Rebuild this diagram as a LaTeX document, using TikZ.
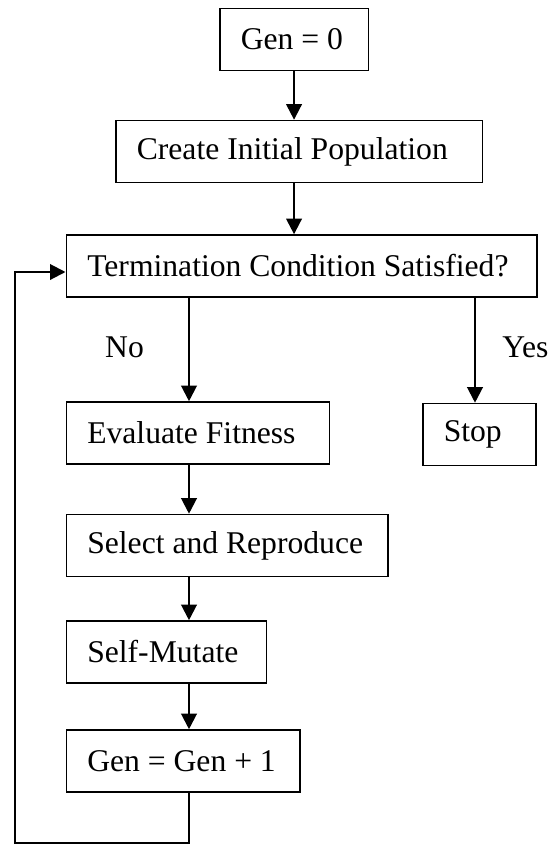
\documentclass[tikz,border=0pt]{standalone}
\usepackage{fontspec}
\setmainfont{Liberation Serif}
\usetikzlibrary{arrows.meta}

% text set flush left in a field of fixed width
\newcommand{\boxtext}[2]{\makebox[#1][l]{#2}}

\begin{document}
\begin{tikzpicture}[
      mybox/.style={
         rectangle,
         draw=black,
         line width=0.9pt,
         inner xsep=0.42cm,
         inner ysep=0pt,
         minimum height=1.24cm,
         anchor=west,
         font=\fontsize{18}{21}\selectfont},
      myarrow/.style={-{Triangle[length=0.31cm,width=0.31cm]},line width=1.2pt},
      mylabel/.style={font=\fontsize{18}{21}\selectfont}
      ]
      \useasboundingbox (0,0) rectangle (11.02,-16.88);

      \node[mybox] (gen0) at (4.38,-0.79) {\boxtext{2.13cm}{Gen = 0}};
      \node[mybox] (create) at (2.30,-3.03) {\boxtext{6.49cm}{Create Initial Population}};
      \node[mybox] (term) at (1.31,-5.32) {\boxtext{8.57cm}{Termination Condition Satisfied?}};
      \node[mybox] (eval) at (1.31,-8.66) {\boxtext{4.42cm}{Evaluate Fitness}};
      \node[mybox] (stop) at (8.44,-8.69) {\boxtext{1.42cm}{Stop}};
      \node[mybox] (select) at (1.31,-10.91) {\boxtext{5.59cm}{Select and Reproduce}};
      \node[mybox] (mutate) at (1.31,-13.04) {\boxtext{3.16cm}{Self-Mutate}};
      \node[mybox] (gen1) at (1.31,-15.22) {\boxtext{3.83cm}{Gen = Gen + 1}};

      \node[mylabel] (no) at (2.49,-6.94) {No};
      \node[mylabel] (yes) at (10.51,-6.94) {Yes};

      \coordinate (nocol) at (3.78,0);
      \coordinate (yescol) at (9.50,0);
      \coordinate (loopbot) at (0.30,-16.86);
      \coordinate (loopin) at (0.30,-5.44);

    \foreach \i/\j/\c in {% start node/end node/column
      gen0/create/gen0.south,
      create/term/gen0.south,
      term/eval/nocol,
      term/stop/yescol,
      eval/select/nocol,
      select/mutate/nocol,
      mutate/gen1/nocol}
       \draw [myarrow] (\i.south -| \c) -- (\j.north -| \c);

    % back to the test
    \draw [myarrow] (gen1.south -| nocol) |- (loopbot) -- (loopin) -- (term.west |- loopin);

     \end{tikzpicture}
\end{document}
